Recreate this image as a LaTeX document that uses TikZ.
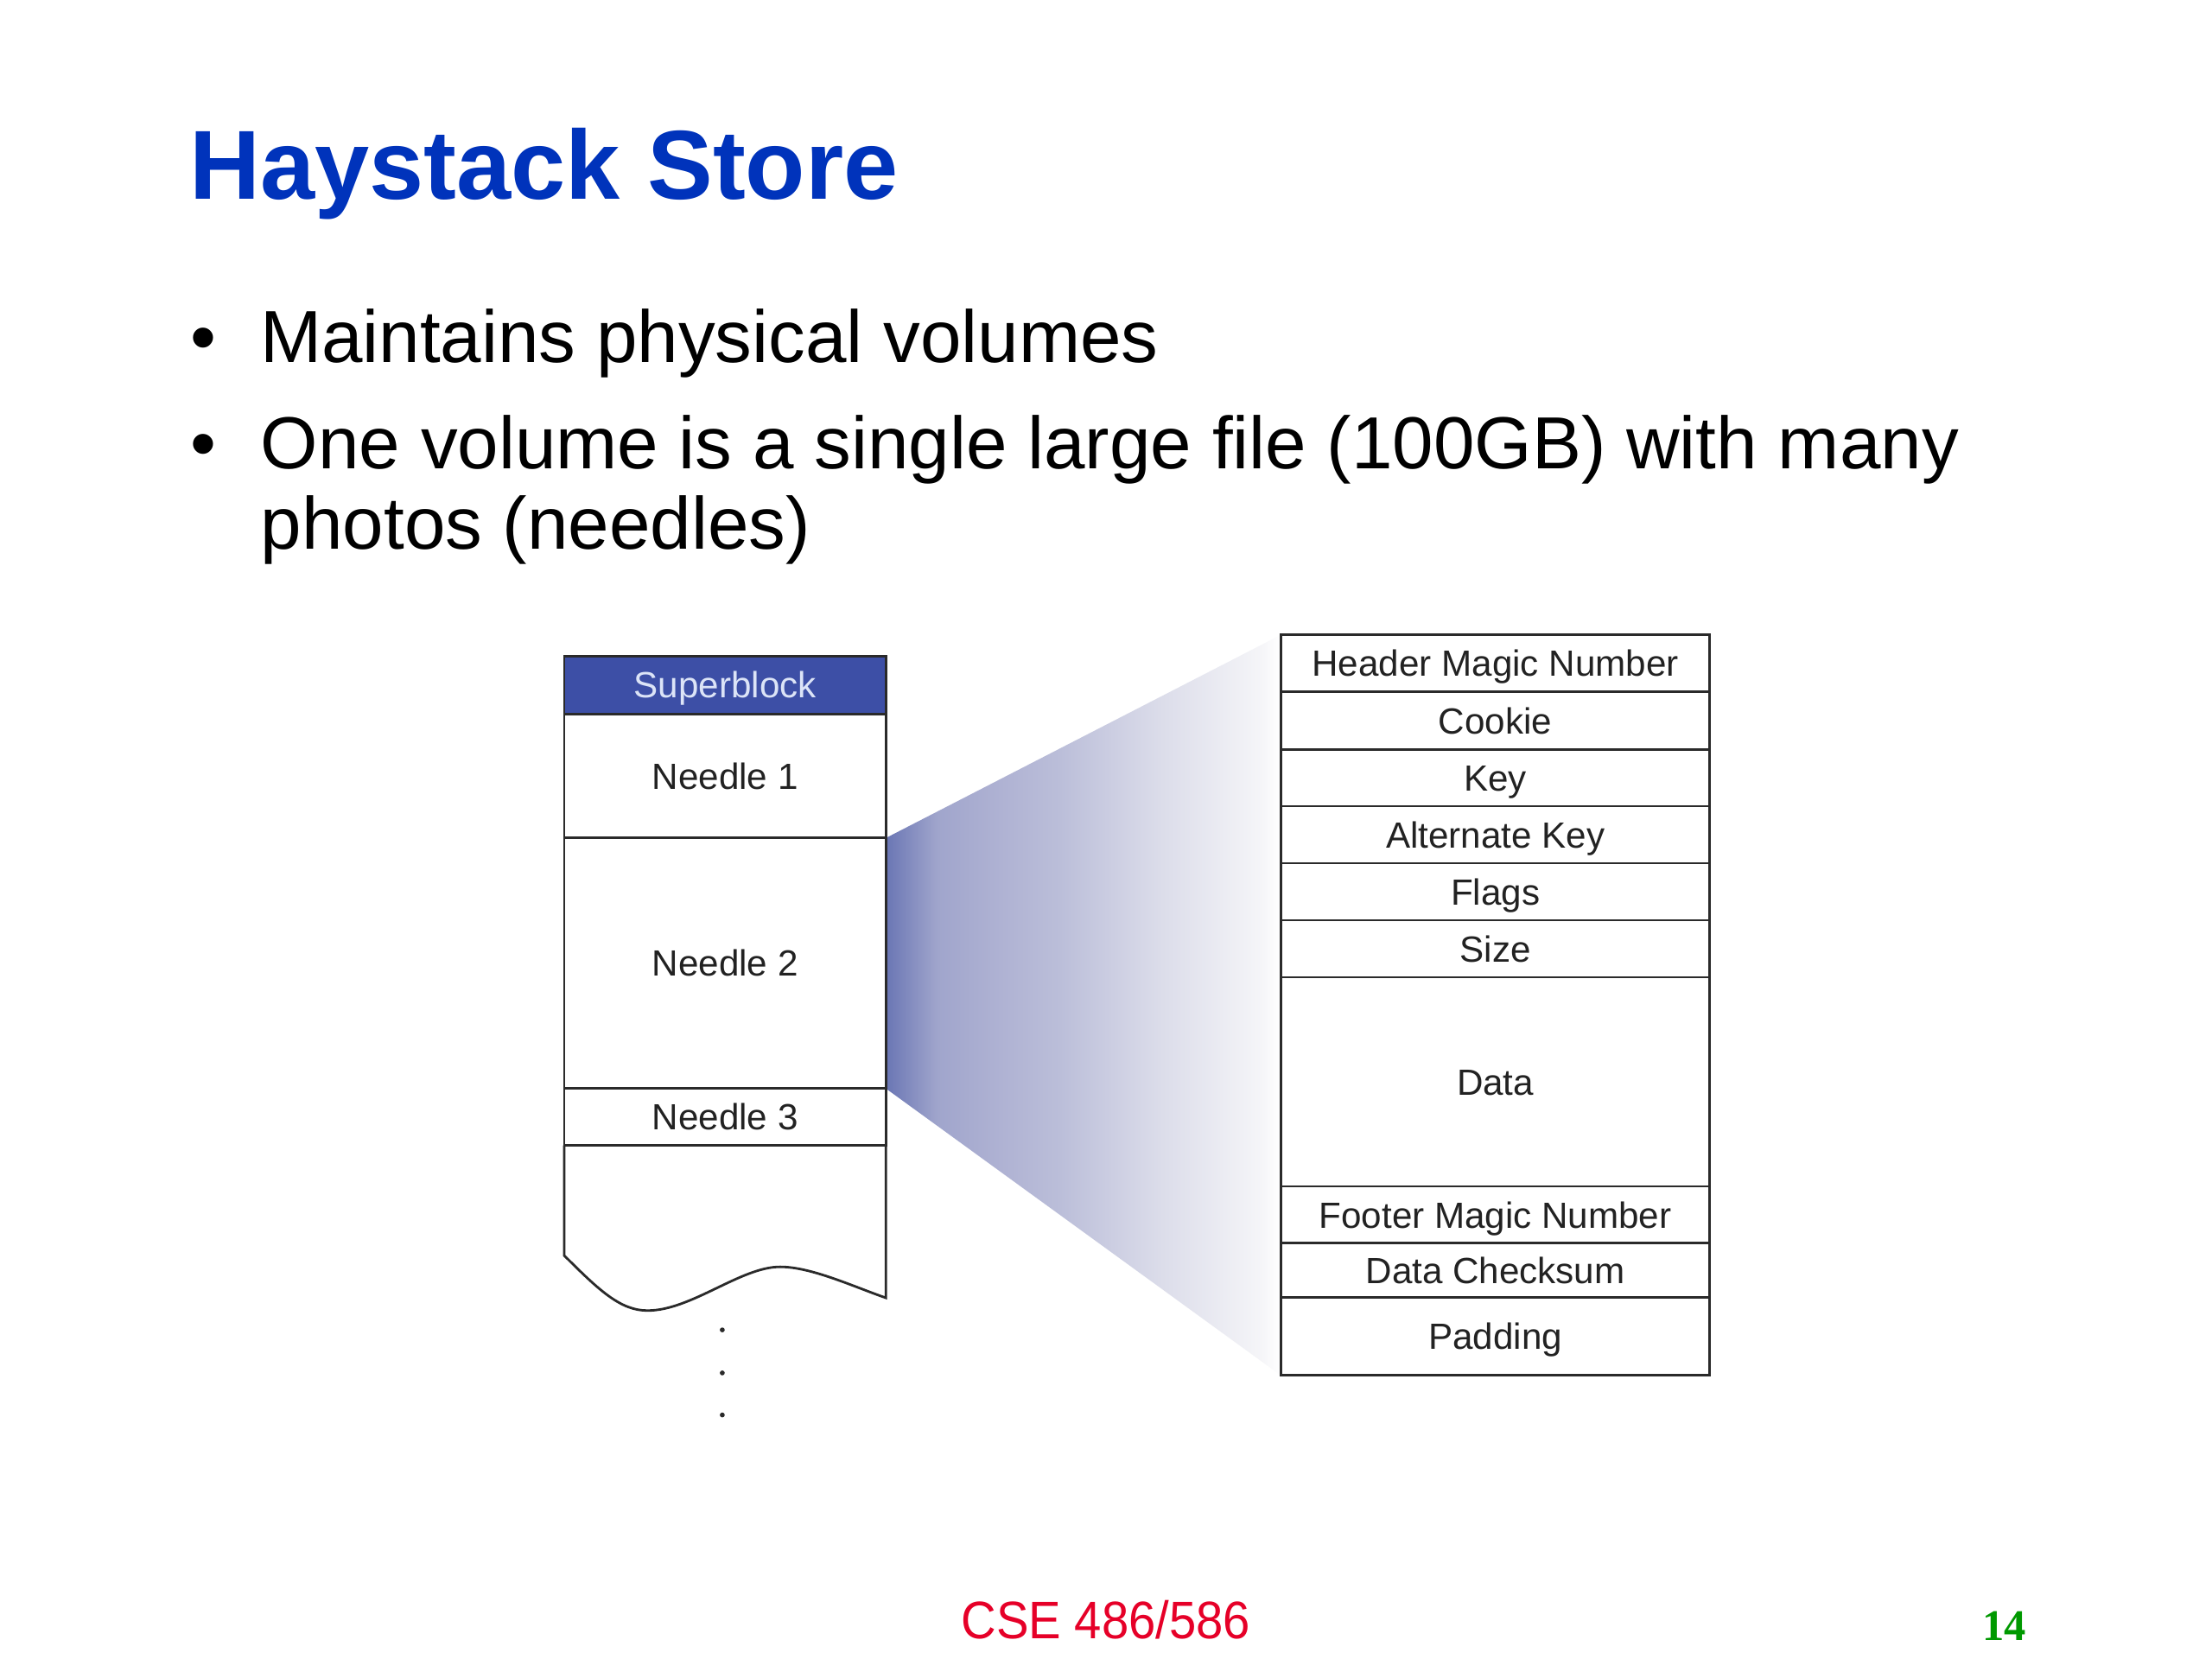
\documentclass[tikz,border=0pt]{standalone}
\usepackage{fontspec}
\setmainfont{Liberation Sans}
\newfontfamily\pagenumfont{Liberation Serif}
\usepackage{graphicx}
\usetikzlibrary{backgrounds}
\newcommand\spu{0.016327cm}
\definecolor{titleblue}{HTML}{0033BB}
\definecolor{sbfill}{HTML}{3D4FA6}
\definecolor{sbtext}{HTML}{DCE4F7}
\definecolor{lineC}{HTML}{2A2A2A}
\definecolor{textC}{HTML}{222222}
\definecolor{footred}{HTML}{E60028}
\definecolor{footgreen}{HTML}{009900}
\definecolor{fanA}{HTML}{6A76B4}
\definecolor{fanB}{HTML}{A0A5CC}
\definecolor{fanC}{HTML}{AFB2D3}
\definecolor{fanD}{HTML}{BBBED9}
\definecolor{fanE}{HTML}{DCDDEA}
\definecolor{fanF}{HTML}{F5F5F8}
\pgfdeclarehorizontalshading{fanshade}{100bp}{color(0bp)=(fanA); color(25bp)=(fanA); color(31.5bp)=(fanB); color(39.5bp)=(fanC); color(47bp)=(fanD); color(60bp)=(fanE); color(72.5bp)=(fanF); color(75bp)=(white); color(100bp)=(white)}
\begin{document}
\begin{tikzpicture}[x=0.016327cm, y=-0.016327cm,
  cellbox/.style={draw=lineC, line width=0.8pt, rectangle, inner sep=0pt, outer sep=0pt,
    anchor=north west, font=\fontsize{12}{14}\selectfont, text=textC,
    text height=8.6pt, text depth=0pt},
  tcell/.style={cellbox, fill=white, minimum width={304*\spu}},
  vcell/.style={cellbox, fill=white, minimum width={228*\spu}},
  vol/.style={draw=lineC, line width=0.8pt},
  bodytext/.style={anchor=base west, inner sep=0pt, font=\fontsize{24.3}{28}\selectfont, text=black},
  bulletmark/.style={anchor=base, inner sep=0pt, font=\fontsize{24.3}{28}\selectfont, text=black},
  dotmark/.style={circle, fill=lineC, inner sep=0pt, minimum size={3.5*\spu}}
]
\useasboundingbox (0,0) rectangle (1568,1176);

% title and bullets
\node[anchor=base west, inner sep=0pt, font=\fontsize{32.3}{38}\selectfont\bfseries, text=titleblue] (title) at (134,141) {Haystack Store};
\node[bulletmark] (bu1) at (144,257) {•};
\node[bodytext] (t1) at (184,257) {Maintains physical volumes};
\node[bulletmark] (bu2) at (144,332.4) {•};
\node[bodytext] (t2) at (184.5,332.4) {One volume is a single large file (100GB) with many};
\node[bodytext] (t3) at (184.5,389) {photos (needles)};

% volume (left)
\node[vcell, fill=sbfill, text=sbtext, minimum height={41*\spu}] (sb) at (400,465) {Superblock};
\node[vcell, minimum height={88*\spu}] (n1) at (400,506) {Needle 1};
\node[vcell, minimum height={177.6*\spu}] (n2) at (400,594) {Needle 2};
\node[vcell, minimum height={40.4*\spu}] (n3) at (400,771.6) {Needle 3};
\coordinate (wl) at (400,890);
\coordinate (wr) at (628,920);
\draw[vol] (n3.south west) -- (wl) .. controls (425,915) and (440,929) .. (459,929)
  .. controls (490,929) and (525,898) .. (553,898)
  .. controls (575,898) and (605,912) .. (wr) -- (n3.south east);
\node[dotmark] (d1) at (512,942.7) {};
\node[dotmark] (d2) at (512,973.2) {};
\node[dotmark] (d3) at (512,1003) {};

% needle layout (right)
\node[tcell, minimum height={40.4*\spu}] (hmn) at (908,450) {Header Magic Number};
\node[tcell, minimum height={40.7*\spu}] (cookie) at (908,490.4) {Cookie};
\node[tcell, minimum height={40.4*\spu}] (key) at (908,531.1) {Key};
\node[tcell, minimum height={40.4*\spu}] (akey) at (908,571.5) {Alternate Key};
\node[tcell, minimum height={40.4*\spu}] (flags) at (908,611.9) {Flags};
\node[tcell, minimum height={40.4*\spu}] (size) at (908,652.3) {Size};
\node[tcell, minimum height={148.2*\spu}] (data) at (908,692.7) {Data};
\node[tcell, minimum height={40.4*\spu}] (fmn) at (908,840.9) {Footer Magic Number};
\node[tcell, minimum height={38.3*\spu}] (csum) at (908,881.3) {Data Checksum};
\node[tcell, minimum height={55.4*\spu}] (pad) at (908,919.6) {Padding};

% fan between Needle 2 and the needle layout
\begin{pgfonlayer}{background}
\fill[white] (0,0) rectangle (1568,1176);
\shade[shading=fanshade] (n2.north east) -- (hmn.north west) -- (pad.south west) -- (n2.south east) -- cycle;
\end{pgfonlayer}

% footer
\node[anchor=base west, inner sep=0pt, font=\fontsize{17.4}{20}\selectfont, text=footred] (course) at (681,1161.6) {\scalebox{0.92}[1]{CSE 486/586}};
\node[anchor=base west, inner sep=0pt, font=\pagenumfont\fontsize{14.4}{17}\selectfont\bfseries, text=footgreen] (pnum) at (1405,1163) {14};
\end{tikzpicture}
\end{document}
